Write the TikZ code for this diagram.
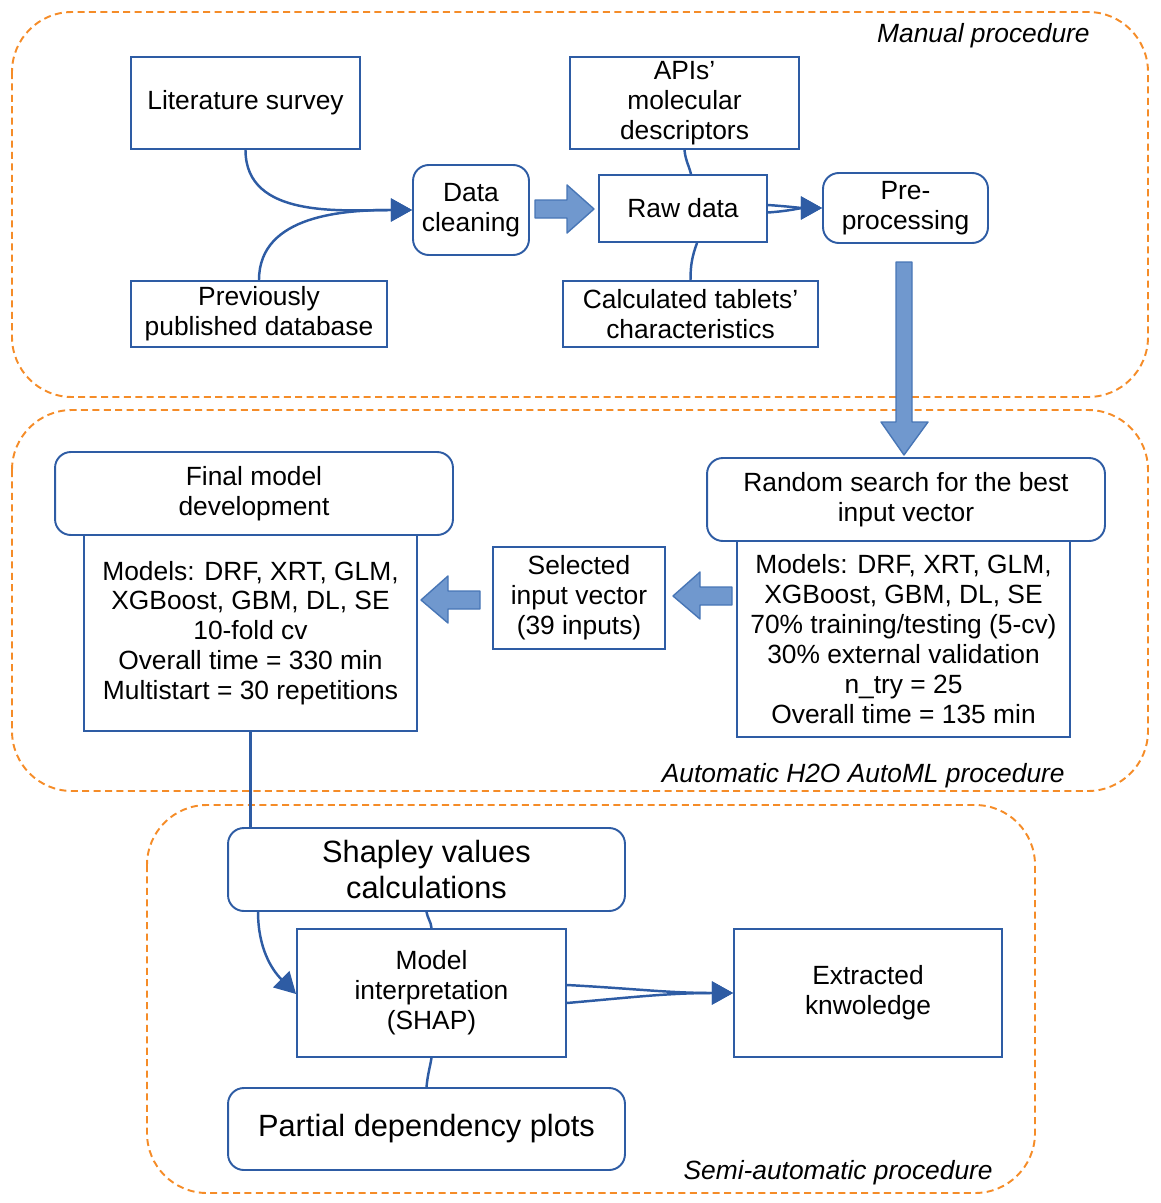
\documentclass[tikz,border=0pt]{standalone}
\usepackage{fontspec}
\setmainfont{Liberation Sans}
\usepackage{tikz}
\usetikzlibrary{positioning}
\usetikzlibrary{arrows.meta, calc}

\definecolor{boxblue}{RGB}{46,92,164}
\definecolor{fillblue}{RGB}{112,152,206}
\definecolor{edgeblue}{RGB}{72,118,182}
\definecolor{dashorange}{RGB}{245,140,40}

\tikzset{
  box/.style={draw=boxblue, line width=1.1pt, inner sep=0pt, align=center,
              font=\fontsize{15}{17}\selectfont},
  rbox/.style={box, rounded corners=9pt},
  bigtext/.style={font=\fontsize{17.5}{20}\selectfont},
  flow/.style={draw=boxblue, line width=1.4pt},
  flowtip/.style={flow, -{Triangle[length=12pt,width=13pt]}},
  fatarrow/.style={draw=edgeblue, fill=fillblue, line width=0.8pt, line join=round},
  region/.style={draw=dashorange, line width=1.1pt, dash pattern=on 4pt off 2.5pt,
                 rounded corners=1.2cm},
  tag/.style={font=\fontsize{15}{17}\selectfont\itshape, anchor=east, inner sep=0pt},
}

\begin{document}
\begin{tikzpicture}[x=0.02cm, y=0.02cm]
  \useasboundingbox (0,0) rectangle (1160,-1203);

  % 3 areas
  \draw[region] (12,-12) rectangle (1148,-397);
  \draw[region] (12,-410) rectangle (1148,-791);
  \draw[region] (147,-805) rectangle (1035,-1193);
  \node[tag] (tmanual) at (1090,-36) {Manual procedure};
  \node[tag] (tauto) at (1065,-776) {Automatic H2O AutoML procedure};
  \node[tag] (tsemi) at (993,-1173) {Semi-automatic procedure};

  % manual procedure
  \node[box, minimum width=4.58cm, minimum height=1.84cm] (lit) at (245.5,-103) {Literature survey};
  \node[box, minimum width=5.12cm, minimum height=1.32cm] (prev) at (259,-314) {Previously\\published database};
  \node[rbox, minimum width=2.32cm, minimum height=1.8cm] (clean) at (471,-210) {Data\\cleaning};
  \node[box, minimum width=4.58cm, minimum height=1.84cm] (apis) at (684.5,-103) {APIs’\\molecular\\descriptors};
  \node[box, minimum width=3.36cm, minimum height=1.34cm] (raw) at (683,-208.5) {Raw data};
  \node[box, minimum width=5.1cm, minimum height=1.32cm] (calc) at (690.5,-314) {Calculated tablets’\\characteristics};
  \node[rbox, minimum width=3.3cm, minimum height=1.4cm] (pre) at (905.5,-208) {Pre-\\processing};

  \draw[flowtip] (lit.south) to[out=-90,in=180] (clean.west);
  \draw[flowtip] (prev.north) to[out=90,in=180] (clean.west);
  \draw[flow] (apis.south) to[out=-85,in=105] ([xshift=0.16cm]raw.north);
  \draw[flow] ([xshift=0.28cm]raw.south) to[out=-110,in=90] (calc.north);
  \draw[flowtip] ([yshift=0.07cm]raw.east) to[out=-4,in=180] (pre.west);
  \draw[flowtip] ([yshift=-0.08cm]raw.east) to[out=4,in=180] (pre.west);

  % fat arrows
  \draw[fatarrow] (535,-200) -- (567,-200) -- (567,-185) -- (594,-209)
    -- (567,-233) -- (567,-218) -- (535,-218) -- cycle; %右
  \draw[fatarrow] (896,-262) -- (912,-262) -- (912,-422) -- (928,-422)
    -- (904,-455) -- (881,-422) -- (896,-422) -- cycle; %下
  \draw[fatarrow] (732,-587) -- (700,-587) -- (700,-572) -- (673,-596)
    -- (700,-619) -- (700,-605) -- (732,-605) -- cycle; %左
  \draw[fatarrow] (480,-591) -- (448,-591) -- (448,-576) -- (421,-600)
    -- (448,-623) -- (448,-609) -- (480,-609) -- cycle; %左

  % automatic procedure
  \node[rbox, minimum width=7.96cm, minimum height=1.66cm] (search) at (906,-499.5) {Random search for the best\\input vector};
  \node[box, minimum width=6.66cm, minimum height=3.92cm] (modR) at (903.5,-639)
    {Models: DRF, XRT, GLM,\\XGBoost, GBM, DL, SE\\70\% training/testing (5-cv)\\30\% external validation\\n\_try = 25\\Overall time = 135 min};
  \node[box, minimum width=3.44cm, minimum height=2.04cm] (sel) at (579,-598) {Selected\\input vector\\(39 inputs)};
  \node[rbox, minimum width=7.96cm, minimum height=1.66cm] (final) at (254,-493.5) {Final model\\development};
  \node[box, minimum width=6.66cm, minimum height=3.92cm] (modL) at (250.5,-633)
    {Models: DRF, XRT, GLM,\\XGBoost, GBM, DL, SE\\10-fold cv\\Overall time = 330 min\\Multistart = 30 repetitions};

  % semi-automatic procedure
  \node[rbox, bigtext, minimum width=7.94cm, minimum height=1.66cm] (shap) at (426.5,-869.5) {Shapley values\\calculations};
  \node[box, minimum width=5.38cm, minimum height=2.56cm] (interp) at (431.5,-993) {Model\\interpretation\\(SHAP)};
  \node[box, minimum width=5.36cm, minimum height=2.56cm] (know) at (868,-993) {Extracted\\knwoledge};
  \node[rbox, bigtext, minimum width=7.94cm, minimum height=1.64cm] (pdp) at (426.5,-1129) {Partial dependency plots};

  \draw[flow] (modL.south) -- (modL.south |- shap.north);
  \draw[flowtip] ([xshift=-3.37cm]shap.south) to[out=-90,in=135] ([yshift=-0.02cm]interp.west);
  \draw[flow] (shap.south) to[out=-80,in=95] (interp.north);
  \draw[flowtip] ([yshift=0.16cm]interp.east) to[out=-3,in=180] (know.west);
  \draw[flowtip] ([yshift=-0.2cm]interp.east) to[out=5,in=180] (know.west);
  \draw[flow] (interp.south) to[out=-100,in=85] (pdp.north);
\end{tikzpicture}
\end{document}
